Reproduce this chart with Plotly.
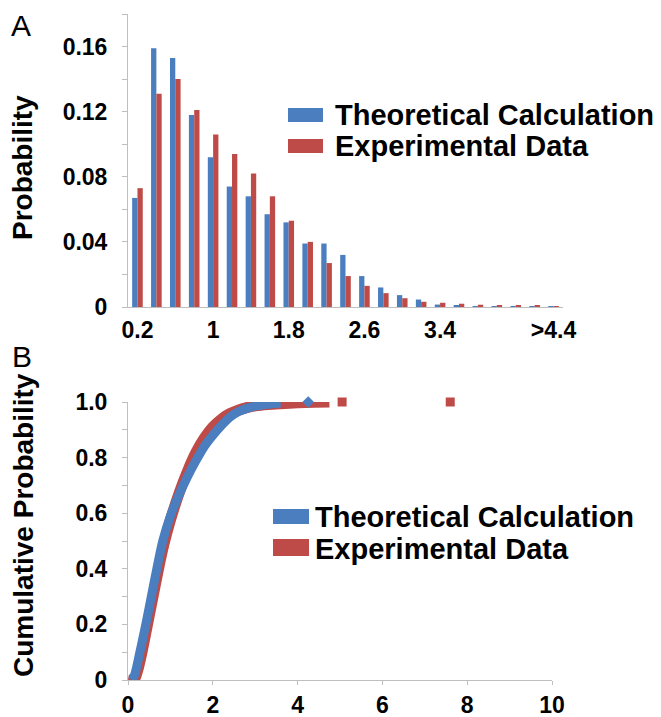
import plotly.graph_objects as go

W, H = 661, 717

# ---------------- Panel A data ----------------
bins = ["0.2", "0.4", "0.6", "0.8", "1", "1.2", "1.4", "1.6", "1.8", "2", "2.2", "2.4",
        "2.6", "2.8", "3", "3.2", "3.4", "3.6", "3.8", "4", "4.2", "4.4", ">4.4"]
theory_prob = [0.067, 0.159, 0.153, 0.118, 0.092, 0.074, 0.068, 0.057, 0.052, 0.039, 0.039, 0.032,
               0.019, 0.012, 0.0073, 0.0046, 0.0015, 0.0009, 0.0003, 0.0002, 0.0001, 0.0003, 0.0001]
exp_prob = [0.073, 0.131, 0.140, 0.121, 0.106, 0.094, 0.082, 0.068, 0.053, 0.040, 0.027, 0.019,
            0.013, 0.0085, 0.0054, 0.0032, 0.0026, 0.0020, 0.0014, 0.0009, 0.0009, 0.0007, 0.0006]
a_tick_cats = ["0.2", "1", "1.8", "2.6", "3.4", ">4.4"]
a_y_ticks = [0, 0.04, 0.08, 0.12, 0.16]
a_y_labels = ["0", "0.04", "0.08", "0.12", "0.16"]

# ---------------- Panel B data ----------------
theory_x = [0.10, 0.16, 0.28, 0.42, 0.55, 0.68, 0.82, 1.0, 1.2, 1.4, 1.6, 1.8, 2.0, 2.2,
            2.4, 2.6, 2.8, 3.0, 3.2, 3.4, 3.6]
theory_cdf = [0.0, 0.02, 0.10, 0.20, 0.30, 0.40, 0.50, 0.59, 0.665, 0.73, 0.788, 0.84, 0.88,
              0.915, 0.945, 0.965, 0.977, 0.985, 0.99, 0.994, 0.996]
theory_out_x = [4.25]
theory_out_y = [1.0]
exp_x = [0.0, 0.14, 0.22, 0.33, 0.46, 0.59, 0.72, 0.85, 1.0, 1.2, 1.4, 1.6, 1.8, 2.0, 2.2,
         2.4, 2.6, 2.8, 3.0, 3.3, 3.6, 4.0, 4.4, 4.75]
exp_cdf = [0.0, 0.0, 0.03, 0.10, 0.20, 0.30, 0.40, 0.49, 0.575, 0.67, 0.75, 0.818, 0.87, 0.91,
           0.938, 0.958, 0.971, 0.98, 0.986, 0.991, 0.994, 0.997, 0.999, 1.0]
exp_out_x = [5.05, 7.6]
exp_out_y = [1.0, 1.0]
b_x_ticks = [0, 2, 4, 6, 8, 10]
b_y_ticks = [0, 0.2, 0.4, 0.6, 0.8, 1.0]
b_y_labels = ["0", "0.2", "0.4", "0.6", "0.8", "1.0"]

BLUE = "#4A7EBF"
RED = "#BE4B48"
GREY = "#BFBFBF"
FONT = "Liberation Sans"


def px(x):
    return x / W


def py(y):
    return 1 - y / H


fig = go.Figure()

fig.add_trace(go.Bar(x=bins, y=theory_prob, marker=dict(color=BLUE, line=dict(width=0)),
                     xaxis="x", yaxis="y", showlegend=False))
fig.add_trace(go.Bar(x=bins, y=exp_prob, marker=dict(color=RED, line=dict(width=0)),
                     xaxis="x", yaxis="y", showlegend=False))

fig.add_trace(go.Scatter(x=exp_x, y=exp_cdf, mode="lines",
                         line=dict(color=RED, width=11, shape="spline", smoothing=0.8),
                         xaxis="x2", yaxis="y2", showlegend=False, cliponaxis=False))
fig.add_trace(go.Scatter(x=exp_out_x, y=exp_out_y, mode="markers",
                         marker=dict(color=RED, symbol="square", size=9),
                         xaxis="x2", yaxis="y2", showlegend=False, cliponaxis=False))
fig.add_trace(go.Scatter(x=theory_x, y=theory_cdf, mode="lines",
                         line=dict(color=BLUE, width=9, shape="spline", smoothing=0.8),
                         xaxis="x2", yaxis="y2", showlegend=False, cliponaxis=False))
fig.add_trace(go.Scatter(x=theory_out_x, y=theory_out_y, mode="markers",
                         marker=dict(color=BLUE, symbol="diamond", size=9),
                         xaxis="x2", yaxis="y2", showlegend=False, cliponaxis=False))

tickfont = dict(family=FONT, size=23, color="black", weight="bold")

fig.update_layout(
    width=W, height=H,
    margin=dict(l=0, r=0, t=0, b=0, autoexpand=False),
    paper_bgcolor="white", plot_bgcolor="white",
    showlegend=False,
    barmode="group", bargap=0.44, bargroupgap=0,
    xaxis=dict(domain=[px(128), px(563)], anchor="y", type="category",
               categoryorder="array", categoryarray=bins,
               tickvals=a_tick_cats, ticktext=a_tick_cats, ticks="",
               showline=True, linecolor=GREY, linewidth=1, showgrid=False,
               tickfont=tickfont, ticklabelstandoff=2),
    xaxis3=dict(overlaying="x", anchor="y", domain=[px(128), px(563)], range=[-0.5, 22.5],
                tickvals=[-0.5 + 3 * i for i in range(8)] + [22.5], showticklabels=False,
                ticks="outside", ticklen=4, tickcolor=GREY, showline=False, showgrid=False,
                zeroline=False),
    yaxis=dict(domain=[py(307), py(14)], anchor="x", range=[0, 0.18],
               tickvals=a_y_ticks, ticktext=a_y_labels, ticks="outside", ticklen=5,
               tickcolor=GREY, showline=True, linecolor=GREY, linewidth=1, showgrid=False,
               zeroline=False, tickfont=tickfont, ticklabelstandoff=10,
               minor=dict(tickvals=[0.02, 0.06, 0.10, 0.14, 0.18], ticks="outside",
                          ticklen=5, tickcolor=GREY)),
    xaxis2=dict(domain=[px(128), px(552)], anchor="y2", range=[0, 10],
                tickvals=b_x_ticks, ticks="outside", ticklen=4, tickcolor=GREY,
                showline=True, linecolor=GREY, linewidth=1, showgrid=False, zeroline=False,
                tickfont=tickfont, ticklabelstandoff=0),
    yaxis2=dict(domain=[py(680), py(402)], anchor="x2", range=[0, 1.0],
                tickvals=b_y_ticks, ticktext=b_y_labels, ticks="outside", ticklen=5,
                tickcolor=GREY, showline=True, linecolor=GREY, linewidth=1, showgrid=False,
                zeroline=False, tickfont=tickfont, ticklabelstandoff=10,
                minor=dict(tickvals=[0.1, 0.3, 0.5, 0.7, 0.9], ticks="outside",
                           ticklen=5, tickcolor=GREY)),
)

ann = []


def text(x, y, s, size, bold=True, angle=0, xanchor="center"):
    ann.append(dict(x=px(x), y=py(y), xref="paper", yref="paper", text=s, showarrow=False,
                    xanchor=xanchor, yanchor="middle", textangle=angle,
                    font=dict(family=FONT, size=size, color="black",
                              weight="bold" if bold else "normal")))


text(21, 26, "A", 30, bold=False)
text(22, 356, "B", 30, bold=False)
text(23, 168, "Probability", 28, angle=-90)
text(23, 525, "Cumulative Probability", 28, angle=-90)
text(333, 115, "Theoretical Calculation", 29, xanchor="left")
text(333, 146, "Experimental Data", 29, xanchor="left")
text(313, 517, "Theoretical Calculation", 29, xanchor="left")
text(313, 549, "Experimental Data", 29, xanchor="left")
fig.update_layout(annotations=ann)

shapes = []


def rect(x0, y0, x1, y1, color):
    shapes.append(dict(type="rect", xref="paper", yref="paper", x0=px(x0), x1=px(x1),
                       y0=py(y1), y1=py(y0), fillcolor=color, line=dict(width=0)))


rect(288, 108, 323, 122, BLUE)
rect(288, 139, 323, 153, RED)
rect(273, 509, 309, 524, BLUE)
rect(273, 539, 309, 556, RED)
fig.update_layout(shapes=shapes)

fig.write_html("out.html",
               post_script="document.body.style.margin='0';"
                           "document.body.style.overflow='hidden';")
